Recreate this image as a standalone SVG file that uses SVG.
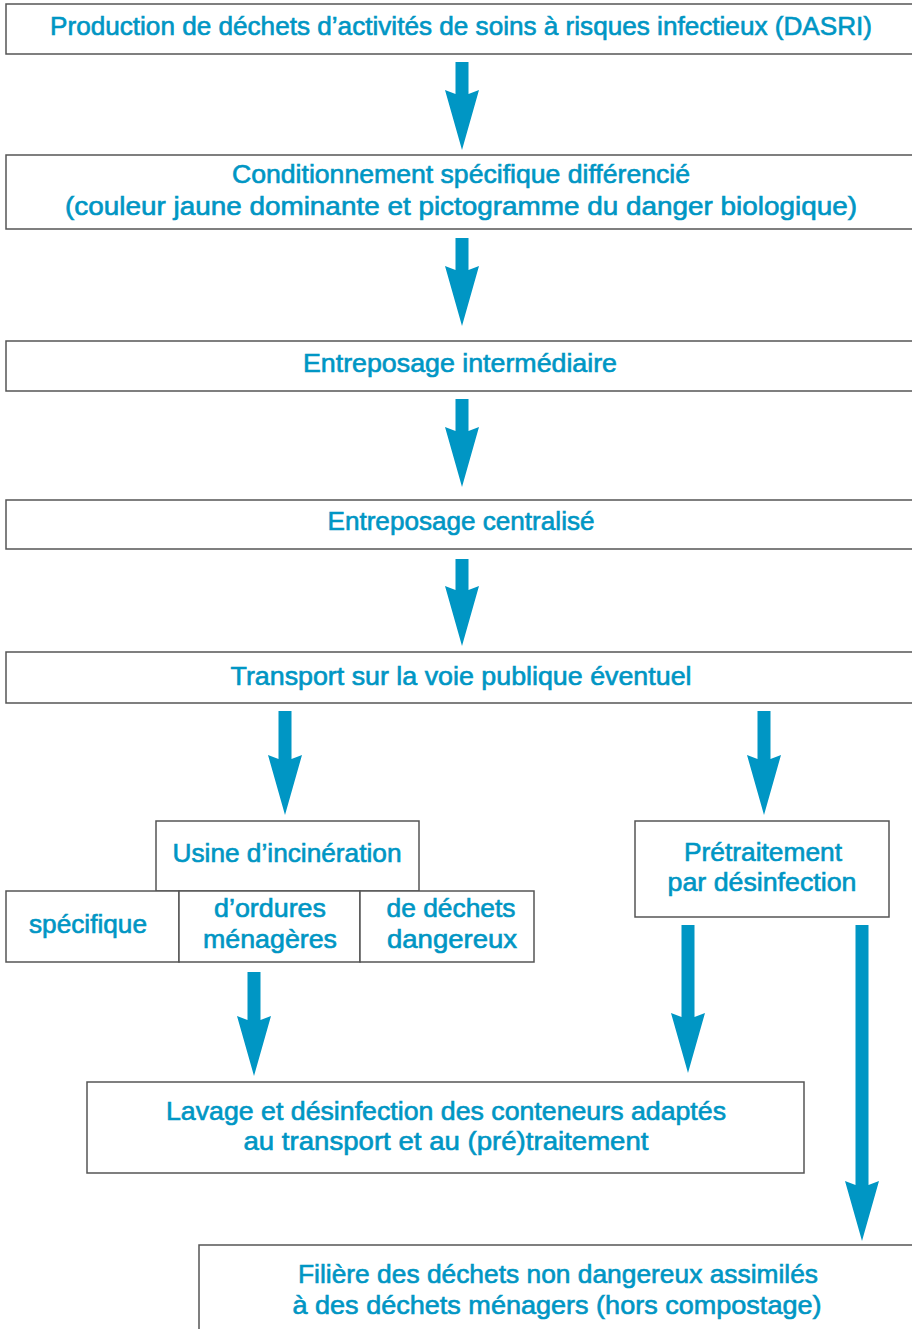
<svg xmlns="http://www.w3.org/2000/svg" width="912" height="1329" viewBox="0 0 912 1329">
<style>
.box{fill:#fff;stroke:#555;stroke-width:1.5}
.t{font-family:"Liberation Sans",Arial,sans-serif;font-size:25px;fill:#0096c4;stroke:#0096c4;stroke-width:0.6;text-anchor:middle}
.arr{fill:#0096c4}
</style>
<rect width="912" height="1329" fill="#fff"/>
<g id="connectors">
<polygon class="arr" points="455.5,62 468.5,62 468.5,94 479,90 462,150 445,90 455.5,94"/>
<polygon class="arr" points="455.5,238 468.5,238 468.5,270 479,266 462,326 445,266 455.5,270"/>
<polygon class="arr" points="455.5,399 468.5,399 468.5,431 479,427 462,487 445,427 455.5,431"/>
<polygon class="arr" points="455.5,559 468.5,559 468.5,590 479,586 462,646 445,586 455.5,590"/>
<polygon class="arr" points="278.5,711 291.5,711 291.5,759 302,755 285,815 268,755 278.5,759"/>
<polygon class="arr" points="757.5,711 770.5,711 770.5,759 781,755 764,815 747,755 757.5,759"/>
<polygon class="arr" points="247.5,972 260.5,972 260.5,1020 271,1016 254,1076 237,1016 247.5,1020"/>
<polygon class="arr" points="681.5,925 694.5,925 694.5,1017 705,1013 688,1073 671,1013 681.5,1017"/>
<polygon class="arr" points="855.5,925 868.5,925 868.5,1185 879,1181 862,1241 845,1181 855.5,1185"/>
</g>
<g id="n1"><rect class="box" x="6" y="4" width="920" height="50"/>
<text class="t" x="461" y="35" textLength="822" lengthAdjust="spacingAndGlyphs">Production de déchets d’activités de soins à risques infectieux (DASRI)</text></g>
<g id="n2"><rect class="box" x="6" y="155" width="920" height="74"/>
<text class="t" x="461" y="183" textLength="458" lengthAdjust="spacingAndGlyphs">Conditionnement spécifique différencié</text>
<text class="t" x="461" y="215" textLength="792" lengthAdjust="spacingAndGlyphs">(couleur jaune dominante et pictogramme du danger biologique)</text></g>
<g id="n3"><rect class="box" x="6" y="341" width="920" height="50"/>
<text class="t" x="460" y="372" textLength="314" lengthAdjust="spacingAndGlyphs">Entreposage intermédiaire</text></g>
<g id="n4"><rect class="box" x="6" y="500" width="920" height="49"/>
<text class="t" x="461" y="530" textLength="267" lengthAdjust="spacingAndGlyphs">Entreposage centralisé</text></g>
<g id="n5"><rect class="box" x="6" y="652" width="920" height="51"/>
<text class="t" x="461" y="685" textLength="461" lengthAdjust="spacingAndGlyphs">Transport sur la voie publique éventuel</text></g>
<g id="n6"><rect class="box" x="156" y="821" width="263" height="70"/>
<text class="t" x="287" y="862" textLength="229" lengthAdjust="spacingAndGlyphs">Usine d’incinération</text></g>
<g id="n7"><rect class="box" x="6" y="891" width="173" height="71"/>
<text class="t" x="88" y="933" textLength="118" lengthAdjust="spacingAndGlyphs">spécifique</text></g>
<g id="n8"><rect class="box" x="179" y="891" width="181" height="71"/>
<text class="t" x="270" y="917" textLength="112" lengthAdjust="spacingAndGlyphs">d’ordures</text>
<text class="t" x="270" y="948" textLength="134" lengthAdjust="spacingAndGlyphs">ménagères</text></g>
<g id="n9"><rect class="box" x="360" y="891" width="174" height="71"/>
<text class="t" x="451" y="917" textLength="129" lengthAdjust="spacingAndGlyphs">de déchets</text>
<text class="t" x="452" y="948" textLength="130" lengthAdjust="spacingAndGlyphs">dangereux</text></g>
<g id="n10"><rect class="box" x="635" y="821" width="254" height="96"/>
<text class="t" x="763" y="861" textLength="158" lengthAdjust="spacingAndGlyphs">Prétraitement</text>
<text class="t" x="762" y="891" textLength="189" lengthAdjust="spacingAndGlyphs">par désinfection</text></g>
<g id="n11"><rect class="box" x="87" y="1082" width="717" height="91"/>
<text class="t" x="446" y="1120" textLength="560" lengthAdjust="spacingAndGlyphs">Lavage et désinfection des conteneurs adaptés</text>
<text class="t" x="446" y="1150" textLength="405" lengthAdjust="spacingAndGlyphs">au transport et au (pré)traitement</text></g>
<g id="n12"><rect class="box" x="199" y="1245" width="730" height="100"/>
<text class="t" x="558" y="1283" textLength="520" lengthAdjust="spacingAndGlyphs">Filière des déchets non dangereux assimilés</text>
<text class="t" x="557" y="1314" textLength="529" lengthAdjust="spacingAndGlyphs">à des déchets ménagers (hors compostage)</text></g>
</svg>
